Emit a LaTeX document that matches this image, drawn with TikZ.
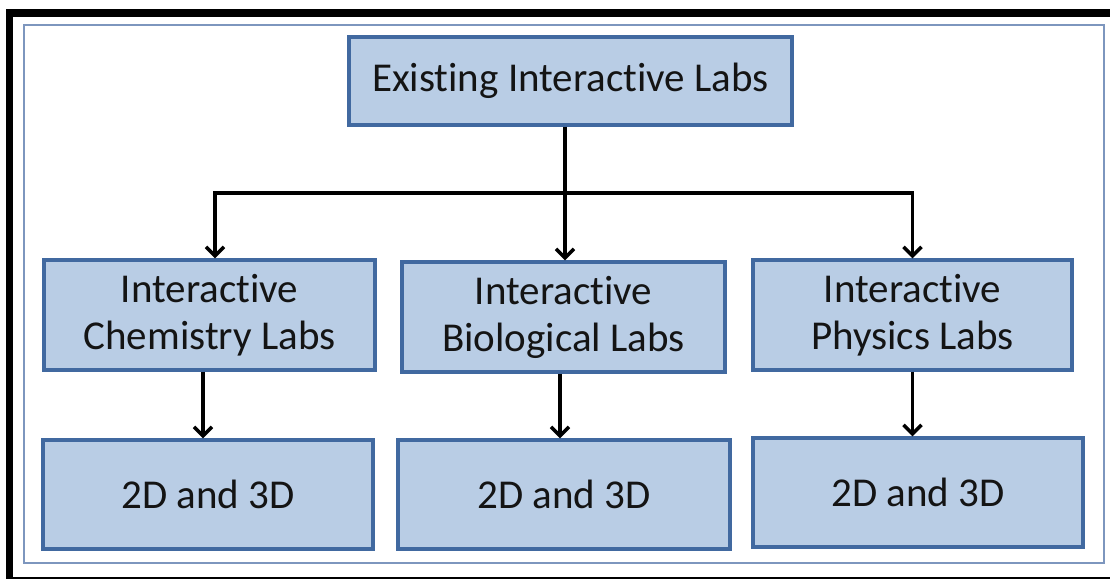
\documentclass[tikz,border=0pt]{standalone}
\usepackage{fontspec}
\setmainfont{Carlito}[Ligatures=NoCommon]
\usetikzlibrary{arrows.meta}
\definecolor{boxfill}{RGB}{185,205,229}
\definecolor{boxdraw}{RGB}{65,105,160}
\definecolor{framecol}{RGB}{125,150,190}
\begin{document}
\begin{tikzpicture}[x=1pt,y=-1pt,
  labbox/.style={rectangle, draw=boxdraw, fill=boxfill, line width=3.2pt,
    align=center, inner sep=0pt, text=black!92,
    font=\fontsize{41}{47}\selectfont},
  conn/.style={line width=3.5pt, draw=black},
  arr/.style={conn, -{Straight Barb[length=9pt,width=18pt,line width=3.5pt]}}]
\useasboundingbox (0,0) rectangle (1110,579);
% outer frame
\fill[black] (6,9) rectangle (1110,17);
\fill[black] (6,9) rectangle (13,579);
\fill[black] (6,576.5) rectangle (1110,579);
\draw[framecol, line width=2.5pt] (24,25) rectangle (1104,563);
% nodes
\node[labbox, minimum width=443pt, minimum height=88pt] (top) at (570.5,81) {Existing Interactive Labs};
\node[labbox, minimum width=331pt, minimum height=110pt] (ml) at (209.5,315) {Interactive\\Chemistry Labs};
\node[labbox, minimum width=323pt, minimum height=110pt] (mm) at (563.5,317) {Interactive\\Biological Labs};
\node[labbox, minimum width=319pt, minimum height=110pt] (mr) at (912.5,315) {Interactive\\Physics Labs};
\node[labbox, minimum width=330pt, minimum height=109pt] (bl) at (208,494.5) {2D and 3D};
\node[labbox, minimum width=332pt, minimum height=109pt] (bm) at (564,494.5) {2D and 3D};
\node[labbox, minimum width=330pt, minimum height=109pt] (br) at (918,492.5) {2D and 3D};
% connectors
\coordinate (j) at (565,193);
\draw[conn] ([xshift=-5.5pt]top.south) -- (j);
\draw[arr] (j) -| ([xshift=5.5pt]ml.north);
\draw[arr] (j) -| (mr.north);
\draw[arr] (j) -- (j |- mm.north);
\draw[arr] ([xshift=-6.5pt]ml.south) -- ([xshift=-6.5pt]ml.south |- bl.north);
\draw[arr] ([xshift=-3.5pt]mm.south) -- ([xshift=-3.5pt]mm.south |- bm.north);
\draw[arr] (mr.south) -- (mr.south |- br.north);
\end{tikzpicture}
\end{document}
